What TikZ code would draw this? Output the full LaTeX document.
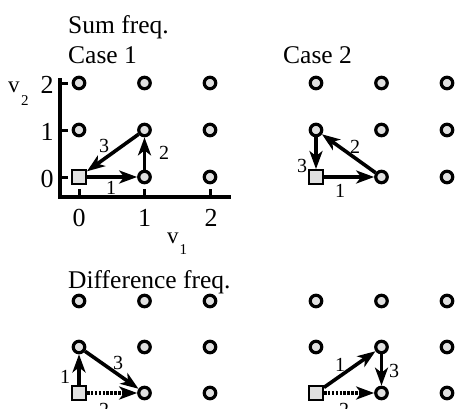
\documentclass[tikz,border=0pt]{standalone}
\usepackage{fontspec}
\setmainfont{Liberation Serif}
\usetikzlibrary{arrows.meta}
\definecolor{dotgray}{gray}{0.88}
\begin{document}
\begin{tikzpicture}[x=1pt,y=-1pt,
  dot/.style={circle,draw,line width=3.2pt,fill=dotgray,minimum size=11.5pt,inner sep=0pt},
  src/.style={rectangle,draw,line width=2.4pt,fill=dotgray,minimum size=13.5pt,inner sep=0pt},
  arr/.style={line width=3.6pt,-{Stealth[length=18pt,width=13pt,inset=5pt]}},
  darr/.style={arr,dash pattern=on 2.6pt off 1.3pt},
  lab/.style={font=\fontsize{20}{20}\selectfont,inner sep=0pt},
  ttl/.style={font=\fontsize{25.5}{25.5}\selectfont,anchor=base west,inner sep=0pt},
  ticklab/.style={font=\fontsize{26}{26}\selectfont,inner sep=0pt},
  axisline/.style={line width=3.2pt,line join=miter},
  tickline/.style={line width=3pt}]
\useasboundingbox (0,0) rectangle (455,408);

% titles
\node[ttl] (tsum) at (68,33) {Sum freq.};
\node[ttl] (tc1) at (68,63) {Case 1};
\node[ttl] (tc2) at (283,63) {Case 2};
\node[ttl] (tdiff) at (68,288) {Difference freq.};

% axes of case 1
\draw[axisline] (60,78) -- (60,197) -- (231,197);
\foreach \yy in {83,130,177} \draw[tickline] (60,\yy) -- (68,\yy);
\foreach \xx in {79,144.5,210} \draw[tickline] (\xx,197) -- (\xx,189);
\node[ticklab] (ty2) at (47,85) {2};
\node[ticklab] (ty1) at (47,132) {1};
\node[ticklab] (ty0) at (47,179) {0};
\node[ticklab] (tx0) at (79,218) {0};
\node[ticklab] (tx1) at (144.5,218) {1};
\node[ticklab] (tx2) at (211,218) {2};
\node[anchor=base west,inner sep=0pt,font=\fontsize{23}{23}\selectfont] (vtwo) at (8,92) {v\hspace{1.5pt}\raisebox{-13pt}{\fontsize{15}{15}\selectfont 2}};
\node[anchor=base west,inner sep=0pt,font=\fontsize{23}{23}\selectfont] (vone) at (167,243) {v\hspace{1pt}\raisebox{-11pt}{\fontsize{15}{15}\selectfont 1}};

% lattices
\foreach \p/\xo/\yo/\dy in {A/79/177/47,B/316/177/47,C/79/393/46,D/316/393/46}{
  \foreach \i in {0,1,2}{
    \foreach \j in {0,1,2}{
      \pgfmathtruncatemacro{\k}{\i+\j}
      \ifnum\k=0
        \node[src] (\p-\i-\j) at (\xo,\yo) {};
      \else
        \node[dot] (\p-\i-\j) at ({\xo+\i*65.5},{\yo-\j*\dy}) {};
      \fi
    }
  }
}

% Case 1
\draw[arr] (A-0-0) -- (A-1-0);
\draw[arr] (A-1-0) -- (A-1-1);
\draw[arr] (A-1-1) -- (A-0-0);
\node[lab] (a1) at (111,188) {1};
\node[lab] (a2) at (164,153) {2};
\node[lab] (a3) at (104,146) {3};

% Case 2
\draw[arr] (B-0-0) -- (B-1-0);
\draw[arr] (B-1-0) -- (B-0-1);
\draw[arr] (B-0-1) -- (B-0-0);
\node[lab] (b1) at (340,191) {1};
\node[lab] (b2) at (355,147) {2};
\node[lab] (b3) at (302,166) {3};

% Difference, left
\draw[arr] (C-0-0) -- (C-0-1);
\draw[arr] (C-0-1) -- (C-1-0);
\draw[darr] (C-0-0) -- (C-1-0);
\node[lab] (c1) at (65,377) {1};
\node[lab] (c3) at (118,363) {3};
\node[lab] (c2) at (104,410) {2};

% Difference, right
\draw[arr] (D-0-0) -- (D-1-1);
\draw[arr] (D-1-1) -- (D-1-0);
\draw[darr] (D-0-0) -- (D-1-0);
\node[lab] (d1) at (340,365) {1};
\node[lab] (d3) at (394,371) {3};
\node[lab] (d2) at (344,410) {2};
\end{tikzpicture}
\end{document}
